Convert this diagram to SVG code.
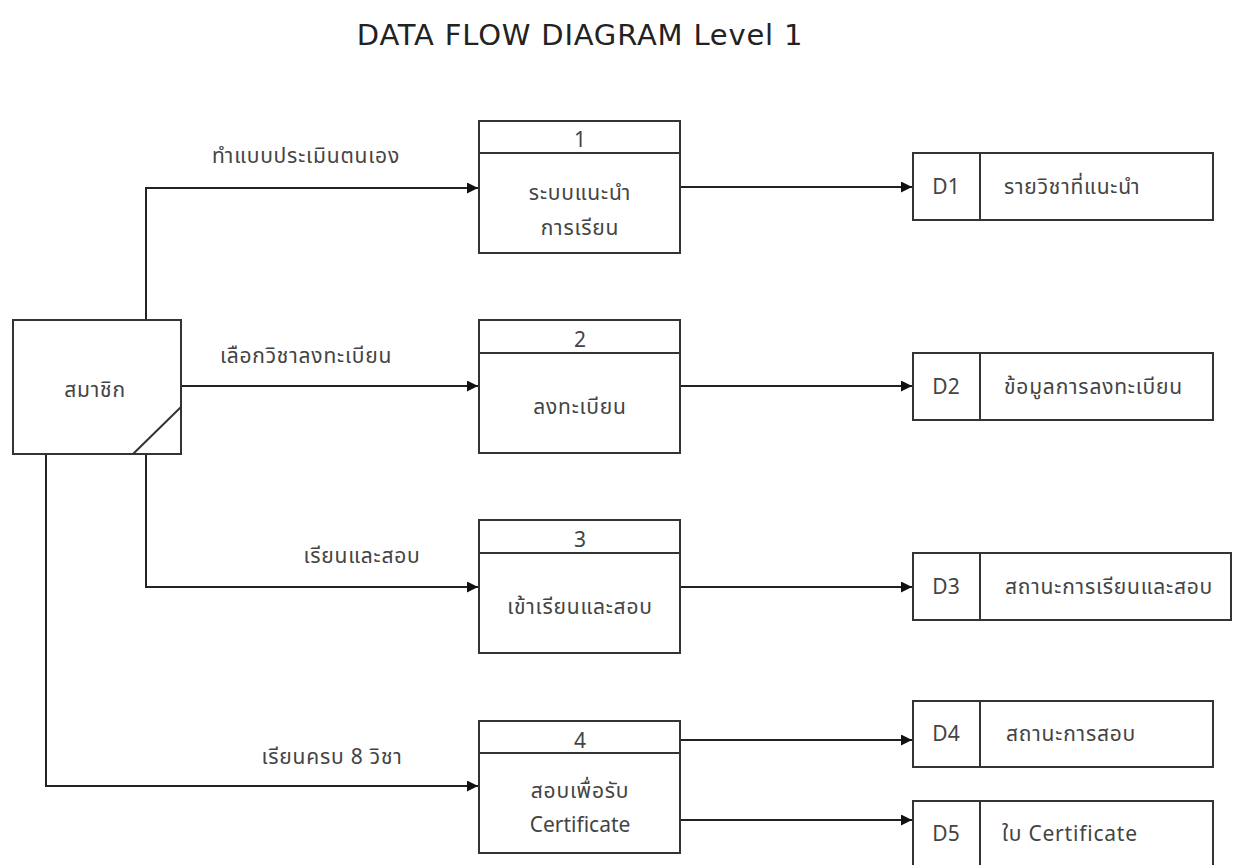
<svg xmlns="http://www.w3.org/2000/svg" width="1233" height="865" viewBox="0 0 1233 865">
  <defs>
    <marker id="arrow" viewBox="0 0 10 10" refX="10" refY="5" markerWidth="11" markerHeight="11" markerUnits="userSpaceOnUse" orient="auto">
      <path d="M0,0 L10,5 L0,10 z" fill="#111"/>
    </marker>
    <style>
      .box { fill: #fff; stroke: #333; stroke-width: 2; }
      .sep { stroke: #333; stroke-width: 2; }
      .flow { fill: none; stroke: #222; stroke-width: 2; marker-end: url(#arrow); }
      .title { font-family: "DejaVu Sans", "Noto Sans", sans-serif; font-size: 29px; letter-spacing: 0.8px; fill: #222; text-anchor: middle; }
      .t { font-family: "Noto Sans Thai", "Tahoma", "Noto Sans", "DejaVu Sans", sans-serif; font-size: 21px; fill: #444; }
      .th { letter-spacing: 0.8px; }
      .c { text-anchor: middle; }
    </style>
  </defs>

  <rect width="1233" height="865" fill="#fff"/>

  <text class="title" x="580" y="45">DATA FLOW DIAGRAM Level 1</text>

  <!-- connectors -->
  <g id="connectors">
    <polyline class="flow" points="146,320 146,188 478,188"/>
    <polyline class="flow" points="181,386 478,386"/>
    <polyline class="flow" points="146,454 146,587 478,587"/>
    <polyline class="flow" points="46,454 46,786 478,786"/>
    <polyline class="flow" points="680,187 912,187"/>
    <polyline class="flow" points="680,386 912,386"/>
    <polyline class="flow" points="680,587 912,587"/>
    <polyline class="flow" points="680,740 912,740"/>
    <polyline class="flow" points="680,820 912,820"/>
    <text class="t th c" x="306" y="163">ทำแบบประเมินตนเอง</text>
    <text class="t th c" x="306" y="363">เลือกวิชาลงทะเบียน</text>
    <text class="t th c" x="362" y="563">เรียนและสอบ</text>
    <text class="t th c" x="332" y="764">เรียนครบ 8 วิชา</text>
  </g>

  <!-- external entity -->
  <g id="member">
    <rect class="box" x="13" y="320" width="168" height="134"/>
    <line class="sep" x1="181" y1="407" x2="133" y2="454"/>
    <text class="t th c" x="95" y="397">สมาชิก</text>
  </g>

  <!-- processes -->
  <g id="process1">
    <rect class="box" x="479" y="121" width="201" height="132"/>
    <line class="sep" x1="479" y1="153" x2="680" y2="153"/>
    <text class="t c" x="580" y="147">1</text>
    <text class="t th c" x="580" y="200">ระบบแนะนำ</text>
    <text class="t th c" x="580" y="235">การเรียน</text>
  </g>
  <g id="process2">
    <rect class="box" x="479" y="320" width="201" height="133"/>
    <line class="sep" x1="479" y1="353" x2="680" y2="353"/>
    <text class="t c" x="580" y="347">2</text>
    <text class="t th c" x="580" y="414">ลงทะเบียน</text>
  </g>
  <g id="process3">
    <rect class="box" x="479" y="520" width="201" height="133"/>
    <line class="sep" x1="479" y1="553" x2="680" y2="553"/>
    <text class="t c" x="580" y="547">3</text>
    <text class="t th c" x="580" y="614">เข้าเรียนและสอบ</text>
  </g>
  <g id="process4">
    <rect class="box" x="479" y="721" width="201" height="132"/>
    <line class="sep" x1="479" y1="753" x2="680" y2="753"/>
    <text class="t c" x="580" y="748">4</text>
    <text class="t th c" x="580" y="798">สอบเพื่อรับ</text>
    <text class="t c" x="580" y="832">Certificate</text>
  </g>

  <!-- data stores -->
  <g id="store-d1">
    <rect class="box" x="913" y="153" width="300" height="67"/>
    <line class="sep" x1="980" y1="153" x2="980" y2="220"/>
    <text class="t c" x="946" y="194">D1</text>
    <text class="t th" x="1004" y="194">รายวิชาที่แนะนำ</text>
  </g>
  <g id="store-d2">
    <rect class="box" x="913" y="353" width="300" height="67"/>
    <line class="sep" x1="980" y1="353" x2="980" y2="420"/>
    <text class="t c" x="946" y="394">D2</text>
    <text class="t th" x="1004" y="394">ข้อมูลการลงทะเบียน</text>
  </g>
  <g id="store-d3">
    <rect class="box" x="913" y="553" width="318" height="67"/>
    <line class="sep" x1="980" y1="553" x2="980" y2="620"/>
    <text class="t c" x="946" y="594">D3</text>
    <text class="t th" x="1005" y="594">สถานะการเรียนและสอบ</text>
  </g>
  <g id="store-d4">
    <rect class="box" x="913" y="701" width="300" height="66"/>
    <line class="sep" x1="980" y1="701" x2="980" y2="767"/>
    <text class="t c" x="946" y="741">D4</text>
    <text class="t th" x="1006" y="741">สถานะการสอบ</text>
  </g>
  <g id="store-d5">
    <rect class="box" x="913" y="801" width="300" height="66"/>
    <line class="sep" x1="980" y1="801" x2="980" y2="867"/>
    <text class="t c" x="946" y="841">D5</text>
    <text class="t th" x="1002" y="841">ใบ Certificate</text>
  </g>
</svg>
